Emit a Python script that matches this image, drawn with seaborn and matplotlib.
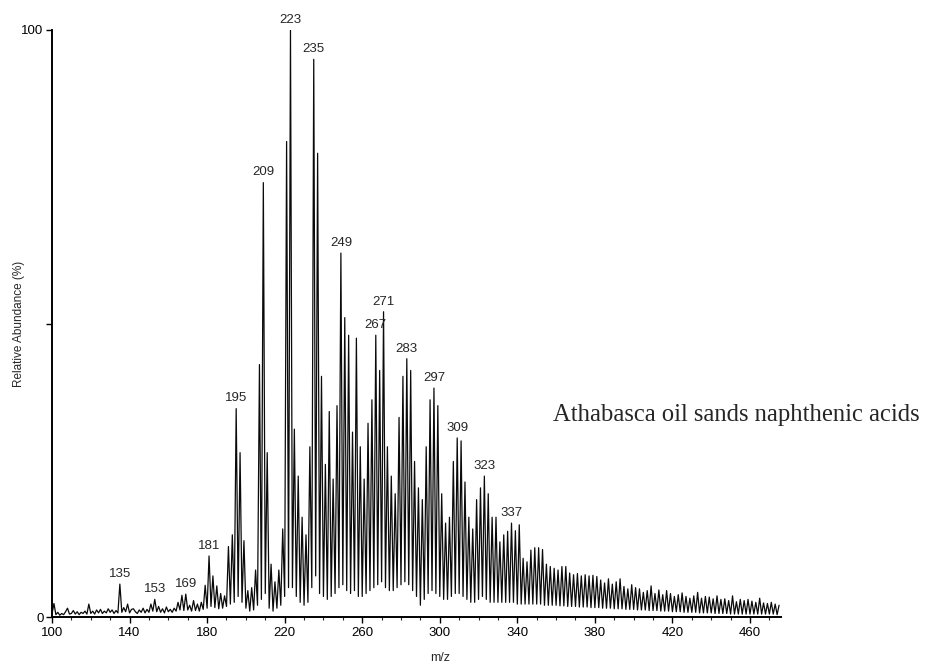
import matplotlib
matplotlib.use("Agg")
import matplotlib.pyplot as plt
import seaborn as sns
import pandas as pd
from matplotlib.ticker import MultipleLocator, FixedLocator

# ---------------- data ----------------
MZ_START = 100  # first m/z of the abundance list (one value per integer m/z)

abundance = [
    # 100-109
    0.5, 2.3, 0.4, 0.8, 0.3, 0.6, 0.4, 0.9, 1.5, 0.5,
    # 110-119
    0.6, 1.1, 0.5, 0.9, 0.4, 0.8, 0.6, 1.0, 0.5, 2.2,
    # 120-129
    0.6, 1.0, 0.5, 1.2, 0.7, 1.3, 0.6, 1.0, 0.7, 1.4,
    # 130-139
    0.8, 1.2, 0.6, 1.1, 0.7, 5.6, 0.8, 1.6, 0.9, 2.2,
    # 140-149
    0.7, 1.3, 1.4, 0.9, 0.6, 1.2, 0.8, 1.5, 0.7, 1.3,
    # 150-159
    0.8, 2.2, 1.0, 3.0, 0.9, 1.8, 0.8, 1.4, 0.7, 1.7,
    # 160-169
    0.9, 1.3, 0.8, 1.5, 1.0, 2.5, 1.2, 3.7, 1.1, 3.9,
    # 170-179
    1.2, 2.0, 1.0, 2.8, 1.1, 2.2, 1.0, 2.5, 1.3, 5.4,
    # 180-189
    1.5, 10.4, 1.8, 7.0, 1.6, 5.3, 1.4, 4.0, 1.5, 3.6,
    # 190-199
    1.8, 12.0, 2.2, 14.0, 2.5, 35.5, 3.5, 28.0, 2.5, 13.0,
    # 200-209
    1.5, 4.5, 1.0, 5.0, 1.2, 8.0, 2.0, 43.0, 3.0, 74.0,
    # 210-219
    4.0, 28.0, 1.5, 9.0, 1.0, 6.0, 1.5, 8.0, 2.0, 15.0,
    # 220-229
    3.5, 81.0, 5.0, 100.0, 5.0, 32.0, 3.5, 24.0, 2.5, 17.0,
    # 230-239
    2.0, 14.0, 2.5, 29.0, 5.0, 95.0, 7.0, 79.0, 4.0, 41.0,
    # 240-249
    3.5, 26.0, 3.0, 35.0, 3.5, 23.5, 4.0, 36.0, 5.0, 62.0,
    # 250-259
    5.5, 51.0, 4.5, 48.0, 4.0, 31.5, 4.5, 47.5, 3.5, 29.0,
    # 260-269
    3.5, 23.5, 4.0, 33.0, 4.5, 37.0, 5.0, 48.0, 5.5, 42.0,
    # 270-279
    6.0, 52.0, 5.0, 29.0, 4.5, 24.0, 4.5, 21.0, 5.0, 34.0,
    # 280-289
    5.5, 41.0, 6.0, 44.0, 5.5, 42.0, 4.5, 26.5, 3.5, 22.0,
    # 290-299
    2.0, 20.0, 3.0, 29.0, 4.0, 37.0, 4.5, 39.0, 4.0, 36.0,
    # 300-309
    3.5, 21.0, 3.0, 16.0, 3.0, 17.0, 3.5, 26.5, 4.0, 30.5,
    # 310-319
    4.0, 30.0, 3.5, 23.0, 3.0, 17.0, 2.5, 15.0, 2.5, 20.0,
    # 320-329
    3.0, 22.0, 3.5, 24.0, 3.0, 21.0, 2.5, 17.0, 2.5, 17.0,
    # 330-339
    2.5, 12.8, 2.5, 14.0, 2.5, 14.6, 2.5, 16.0, 2.5, 14.7,
    # 340-349
    2.2, 15.7, 2.2, 10.0, 2.2, 9.4, 2.2, 11.4, 2.2, 11.8,
    # 350-359
    2.2, 11.8, 2.2, 11.5, 2.0, 9.0, 2.0, 8.6, 2.0, 8.3,
    # 360-369
    2.0, 8.0, 1.9, 8.6, 1.9, 8.6, 1.8, 7.5, 1.8, 7.2,
    # 370-379
    1.8, 7.4, 1.7, 7.0, 1.7, 7.2, 1.7, 7.0, 1.6, 7.1,
    # 380-389
    1.6, 6.9, 1.6, 6.3, 1.5, 5.8, 1.5, 6.5, 1.5, 5.6,
    # 390-399
    1.4, 6.0, 1.4, 6.5, 1.4, 5.2, 1.3, 4.8, 1.3, 5.5,
    # 400-409
    1.3, 5.0, 1.2, 4.8, 1.2, 4.2, 1.2, 4.5, 1.1, 5.3,
    # 410-419
    1.1, 4.0, 1.1, 4.6, 1.0, 3.8, 1.0, 4.5, 1.0, 4.0,
    # 420-429
    0.9, 3.5, 0.9, 3.8, 0.9, 4.1, 0.8, 3.5, 0.8, 3.2,
    # 430-439
    0.8, 3.6, 0.8, 4.2, 0.7, 3.2, 0.7, 3.5, 0.7, 3.4,
    # 440-449
    0.7, 3.1, 0.6, 3.6, 0.6, 3.0, 0.6, 3.1, 0.6, 2.8,
    # 450-459
    0.5, 3.6, 0.5, 2.6, 0.5, 3.0, 0.5, 2.8, 0.5, 3.0,
    # 460-469
    0.5, 2.7, 0.5, 2.5, 0.5, 3.2, 0.5, 2.4, 0.5, 2.3,
    # 470-475
    0.5, 2.5, 0.5, 2.2, 0.4, 2.0,
]
mz = list(range(MZ_START, MZ_START + len(abundance)))

labelled_peaks = [135, 153, 169, 181, 195, 209, 223, 235, 249, 267, 271,
                  283, 297, 309, 323, 337]

x_ticks = [100, 140, 180, 220, 260, 300, 340, 380, 420, 460]
y_ticks = [0, 50, 100]
y_tick_labels = ["0", "", "100"]

x_label = "m/z"
y_label = "Relative Abundance (%)"
annotation = "Athabasca oil sands naphthenic acids"

# ---------------- plot ----------------
sns.set_style("ticks")
plt.rcParams["font.family"] = ["Liberation Sans", "DejaVu Sans"]

W, H = 927, 672
fig = plt.figure(figsize=(W / 100, H / 100), dpi=100)
ax_left, ax_right, ax_top, ax_bottom = 52, 781, 30, 617
ax = fig.add_axes([ax_left / W, (H - ax_bottom) / H,
                   (ax_right - ax_left) / W, (ax_bottom - ax_top) / H])

df = pd.DataFrame({"mz": mz, "abundance": abundance})
sns.lineplot(data=df, x="mz", y="abundance", ax=ax, color="#0a0a0a",
             linewidth=0.9, estimator=None, sort=False)

ax.set_xlim(100, 476)
ax.set_ylim(0, 100)
sns.despine(ax=ax)
for s in ("left", "bottom"):
    ax.spines[s].set_linewidth(1.4)
    ax.spines[s].set_color("black")

ax.xaxis.set_major_locator(FixedLocator(x_ticks))
ax.xaxis.set_minor_locator(MultipleLocator(10))
ax.set_yticks(y_ticks)
ax.set_yticklabels(y_tick_labels)
ax.tick_params(axis="x", which="major", length=4, width=1, labelsize=9.5,
               pad=3, colors="black")
ax.tick_params(axis="x", which="minor", length=2.5, width=0.8)
ax.tick_params(axis="y", which="major", length=4, width=1, labelsize=9.5,
               pad=2, colors="black")

ax.set_xlabel(x_label, fontsize=9)
ax.set_ylabel(y_label, fontsize=8.5)
ax.xaxis.set_label_coords(0.532, -0.06)
ax.yaxis.set_label_coords(-0.037, 0.5)

lookup = dict(zip(mz, abundance))
for p in labelled_peaks:
    ax.annotate(str(p), xy=(p, lookup[p]), xytext=(0, 3),
                textcoords="offset points", ha="center", va="bottom",
                fontsize=9.5, annotation_clip=False)

fig.text(553 / W, 1 - 421 / H, annotation, family=["Liberation Serif", "DejaVu Serif"],
         fontsize=17.7, ha="left", va="baseline")

fig.savefig("out.png", dpi=100, facecolor="white")
